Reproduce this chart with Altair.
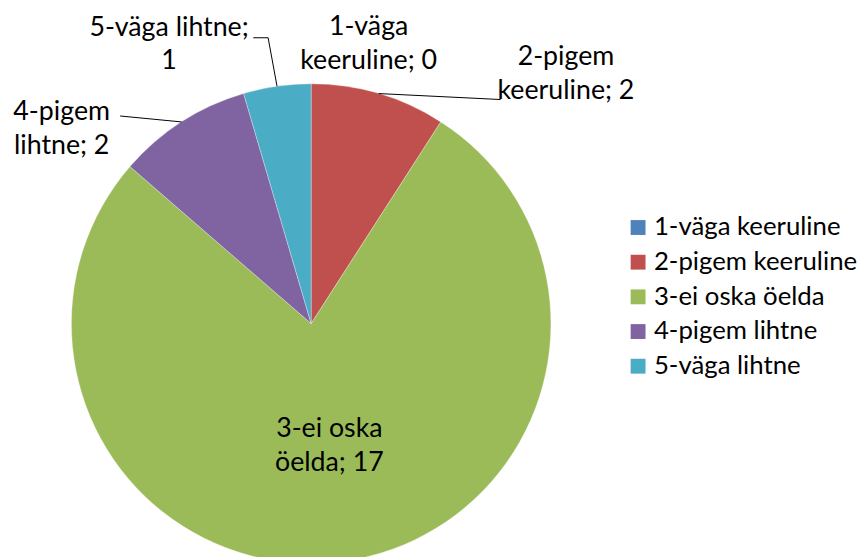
import math
import altair as alt
import pandas as pd

categories = ["1-väga keeruline", "2-pigem keeruline", "3-ei oska öelda", "4-pigem lihtne", "5-väga lihtne"]
values = [0, 2, 17, 2, 1]
label_lines = [
    "1-väga\nkeeruline; 0",
    "2-pigem\nkeeruline; 2",
    "3-ei oska\nöelda; 17",
    "4-pigem\nlihtne; 2",
    "5-väga lihtne;\n1",
]
colors = ["#4F81BD", "#C0504D", "#9BBB59", "#8064A2", "#4BACC6"]

df = pd.DataFrame({"cat": categories, "value": values, "label": label_lines})

W, H = 860, 549
CX, CY, R = 306, 316, 242
FONT = "Lato"
FS = 27

base = alt.Chart(df).encode(
    theta=alt.Theta("value:Q", stack=True),
    color=alt.Color(
        "cat:N",
        scale=alt.Scale(domain=categories, range=colors),
        legend=alt.Legend(
            title=None,
            orient="none",
            legendX=623,
            legendY=206,
            symbolType="square",
            symbolSize=225,
            symbolStrokeWidth=0,
            labelFont=FONT,
            labelFontSize=26,
            labelColor="#000000",
            rowPadding=9,
            labelOffset=3,
            labelLimit=400,
        ),
    ),
)

pie = base.mark_arc(radius=R, stroke="#ffffff", strokeWidth=0.3).encode(
    x=alt.value(CX), y=alt.value(CY)
)

# per-label placement (style): radius, dx, dy
placement = {
    "1-väga keeruline": (R, 58, -57),
    "2-pigem keeruline": (R, 189, -37),
    "3-ei oska öelda": (122, 1, -14),
    "4-pigem lihtne": (R, -121, -10),
    "5-väga lihtne": (R, -109, -59),
}

text_layers = []
for cat, (rad, dx, dy) in placement.items():
    t = (
        alt.Chart(df)
        .mark_text(
            font=FONT, fontSize=FS, color="#000000", align="center",
            baseline="middle", lineBreak="\n", lineHeight=34, dx=dx, dy=dy,
            radius=rad,
        )
        .encode(
            theta=alt.Theta("value:Q", stack=True),
            order=alt.Order("cat:N"),
            text="label:N",
            x=alt.value(CX),
            y=alt.value(CY),
            opacity=alt.condition(alt.datum.cat == cat, alt.value(1), alt.value(0)),
        )
    )
    text_layers.append(t)

# leader lines: from slice edge mid-point toward the label
total = sum(values)
cum = 0
mid = {}
for c, v in zip(categories, values):
    a = (cum + v / 2) / total * 2 * math.pi
    mid[c] = (CX + R * math.sin(a), CY - R * math.cos(a))
    cum += v

leader_offsets = {  # offsets relative to label anchor (style)
    "2-pigem keeruline": [(-66, 43)],
    "4-pigem lihtne": [(59, 4)],
    "5-väga lihtne": [(100, 10), (85, 10)],
}
rows = []
for c, offs in leader_offsets.items():
    ex, ey = mid[c]
    rad, dx, dy = placement[c]
    lx, ly = ex + dx, ey + dy
    rows.append({"cat": c, "i": 0, "px": ex, "py": ey})
    for k, (ox, oy) in enumerate(offs):
        rows.append({"cat": c, "i": k + 1, "px": lx + ox, "py": ly + oy})
ldf = pd.DataFrame(rows)

leaders = alt.Chart(ldf).mark_line(color="#000000", strokeWidth=1).encode(
    x=alt.X("px:Q", scale=None, axis=None),
    y=alt.Y("py:Q", scale=None, axis=None),
    detail="cat:N",
    order="i:Q",
)

chart = alt.layer(pie, leaders, *text_layers).properties(
    width=W, height=H, padding=0, autosize=alt.AutoSizeParams(type="none")
).configure_view(stroke=None)

chart.save("out.html", embed_options={"renderer": "svg", "actions": False})
